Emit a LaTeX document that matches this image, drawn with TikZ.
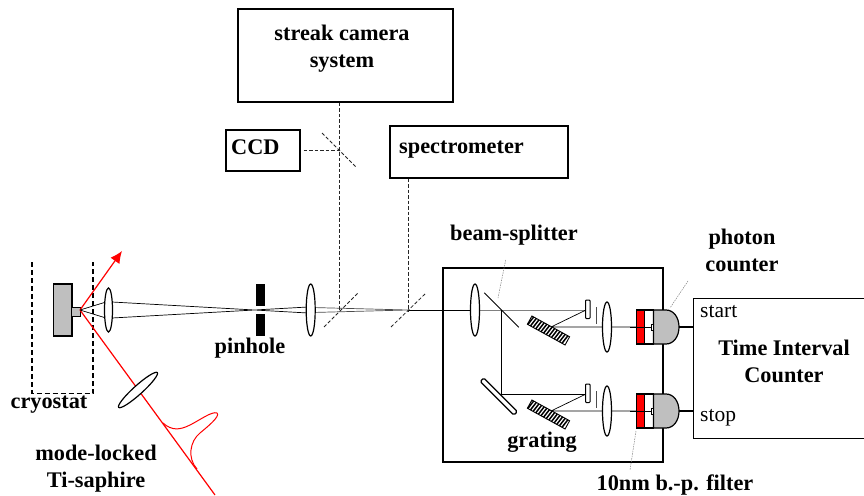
\documentclass[tikz,border=0pt]{standalone}
\usepackage{fontspec}
\setmainfont{Liberation Serif}
\usepackage{tikz}
\usetikzlibrary{positioning,arrows.meta}
\definecolor{samplegray}{gray}{0.75}
\tikzset{
  boxnode/.style={draw,line width=1.2pt,fill=white,inner sep=0pt},
  lbl/.style={font=\fontsize{22.3}{27}\selectfont\bfseries,inner sep=0pt},
  lblplain/.style={font=\fontsize{21.5}{24}\selectfont,inner sep=0pt},
  lensshape/.style={draw,line width=1.2pt,fill=white},
  ray/.style={line width=0.7pt},
  dashline/.style={line width=0.8pt,black!85,dash pattern=on 3.5pt off 2pt},
  pointer/.style={line width=0.5pt,gray,dash pattern=on 1.5pt off 1pt},
  redbeam/.style={red,line width=1.2pt}
}
\begin{document}
\begin{tikzpicture}[x=1pt,y=-1pt]
\useasboundingbox (0,0) rectangle (864,495);
% boxes
\node[boxnode,minimum width=215pt,minimum height=93pt] (streak) at (345.5,55.5) {};
\node[boxnode,minimum width=74pt,minimum height=41pt] (ccd) at (263,150.5) {};
\node[boxnode,minimum width=178pt,minimum height=52pt] (spectro) at (479,152) {};
\node[boxnode,minimum width=220pt,minimum height=194pt] (setup) at (553,365) {};
\node[boxnode,minimum width=190pt,minimum height=139.5pt] (tic) at (788.5,368.5) {};
% labels
\node[lbl,align=center] (streaklabel) at (342,49) {streak camera\\system};
\node[lbl,anchor=west] (ccdlabel) at (231,147) {CCD};
\node[lbl,anchor=west] (spectrolabel) at (399,150) {spectrometer};
\node[lbl] (bslabel) at (514,235) {beam-splitter};
\node[lbl,align=center] (pclabel) at (742,250) {photon\\counter};
\node[lbl] (pinlabel) at (250,348) {pinhole};
\node[lbl] (cryolabel) at (49,405) {cryostat};
\node[lbl,align=center] (tilabel) at (96,469) {mode-locked\\Ti-saphire};
\node[lbl] (gratlabel) at (542,442) {grating};
\node[lbl] (filtlabel) at (675,485) {10nm b.-p. filter};
\node[lbl,align=center] (ticlabel) at (784,361.5) {Time Interval\\Counter};
\node[lblplain,anchor=west] (startlabel) at (700,312) {start};
\node[lblplain,anchor=west] (stoplabel) at (700,418) {stop};
% cryostat and sample
\draw[line width=1.4pt,dash pattern=on 5pt off 3pt] (32,262) -- (32,393.5) -- (93,393.5) -- (93,262);
\filldraw[fill=samplegray,line width=1.2pt] (53.5,284) rectangle (72,336);
\filldraw[fill=samplegray,line width=0.8pt] (71,307.5) rectangle (80,316);
\coordinate (spot) at (80,310);
% laser
\draw[redbeam,-{Latex[length=12pt,width=11pt]}] (spot) -- (122,251);
\draw[redbeam] (spot) -- (215,495);
\draw[redbeam,line width=1pt] (163,423) .. controls (172,431) and (180,430) .. (190,425) .. controls (200,420) and (212,411) .. (217,413) .. controls (221,416) and (206,428) .. (200,433) .. controls (190,441) and (187,458) .. (197,469);
\draw[lensshape,rotate around={42:(138,390)}] (138,390) ellipse (26 and 4.5);
% rays
\draw[ray] (spot) -- (106,302) (spot) -- (106,318);
\draw[ray] (112,302) -- (308,313) (112,318) -- (308,307);
\draw[ray,black!70] (312,307.5) -- (408,310) (312,312.5) -- (408,310);
\draw[ray] (408,310) -- (473,310);
\draw[ray,black!50] (478,310) -- (585,310);
% pinhole
\fill (256,284) rectangle (265,306);
\fill (256,313.5) rectangle (265,336);
% lenses
\draw[lensshape] (108.5,310) ellipse (4 and 22);
\draw[lensshape] (310.7,310) ellipse (4.5 and 26);
\draw[lensshape] (475,310) ellipse (4.5 and 26);
% detection arms
\coordinate (mirccd) at (339.5,150);
\coordinate (mirstreak) at (339.5,311);
\coordinate (mirspectro) at (408,311);
\draw[dashline] (streak.south -| mirccd) -- (mirstreak);
\draw[dashline] (ccd.east |- mirccd) ++(3,0) -- (mirccd);
\draw[dashline] (spectro.south -| mirspectro) -- (mirspectro);
\draw[dashline] (322,133) -- (356,167);
\draw[dashline] (324,327) -- (358,293);
\draw[dashline] (391,327) -- (426,293);
% beam splitter
\draw[line width=0.9pt] (484.3,292.7) -- (518.7,327.3);
\draw[ray] (501.5,310) -- (501.5,394.5) -- (585,394.5);
\filldraw[fill=white,line width=1.2pt,rounded corners=1.5pt,rotate around={-45:(498.8,396.5)}] (475,394) rectangle (522.6,399);
% the two channels
\foreach \yy in {0,84} {
  \begin{scope}[yshift=-\yy pt]
    \draw[ray] (551,327) -- (585,310.5) (551,327) -- (636,327);
    \begin{scope}[shift={(548.5,330.5)},rotate=-28.8]
      \filldraw[fill=white,line width=0.9pt] (-21.5,-4.7) rectangle (21.5,4.7);
      \foreach \tt in {-19.5,-16.5,...,21} {\draw[line width=1.5pt] (\tt,-4.7) -- (\tt-1.5,4.7);}
    \end{scope}
    \filldraw[fill=white,line width=1pt,rounded corners=0.8pt] (585.5,300) rectangle (590,318.5);
    \draw[line width=0.7pt,black!70] (596.7,307) -- (596.7,324);
    \draw[lensshape] (607,327) ellipse (4.5 and 25);
    \fill[red] (636.7,310) rectangle (644.3,344);
    \draw[line width=1.2pt] (636.7,310) rectangle (644.3,344);
    \filldraw[fill=white,line width=1.2pt] (644.3,310) rectangle (653.5,344);
    \draw[ray] (630,327) -- (652,327);
    \filldraw[fill=samplegray,line width=1.2pt] (653.5,310) -- (666,310) .. controls (674,310) and (679,318) .. (679,327) .. controls (679,336) and (674,344) .. (666,344) -- (653.5,344) -- cycle;
    \filldraw[fill=white,line width=0.6pt] (651,324.5) rectangle (653.5,330);
    \draw[line width=1.2pt] (679,327) -- (693,327);
  \end{scope}
}
% pointers
\draw[pointer] (505.7,260) -- (498,298);
\draw[pointer] (688,281) -- (670,308);
\draw[pointer] (636,431) -- (630,470);
\end{tikzpicture}
\end{document}
